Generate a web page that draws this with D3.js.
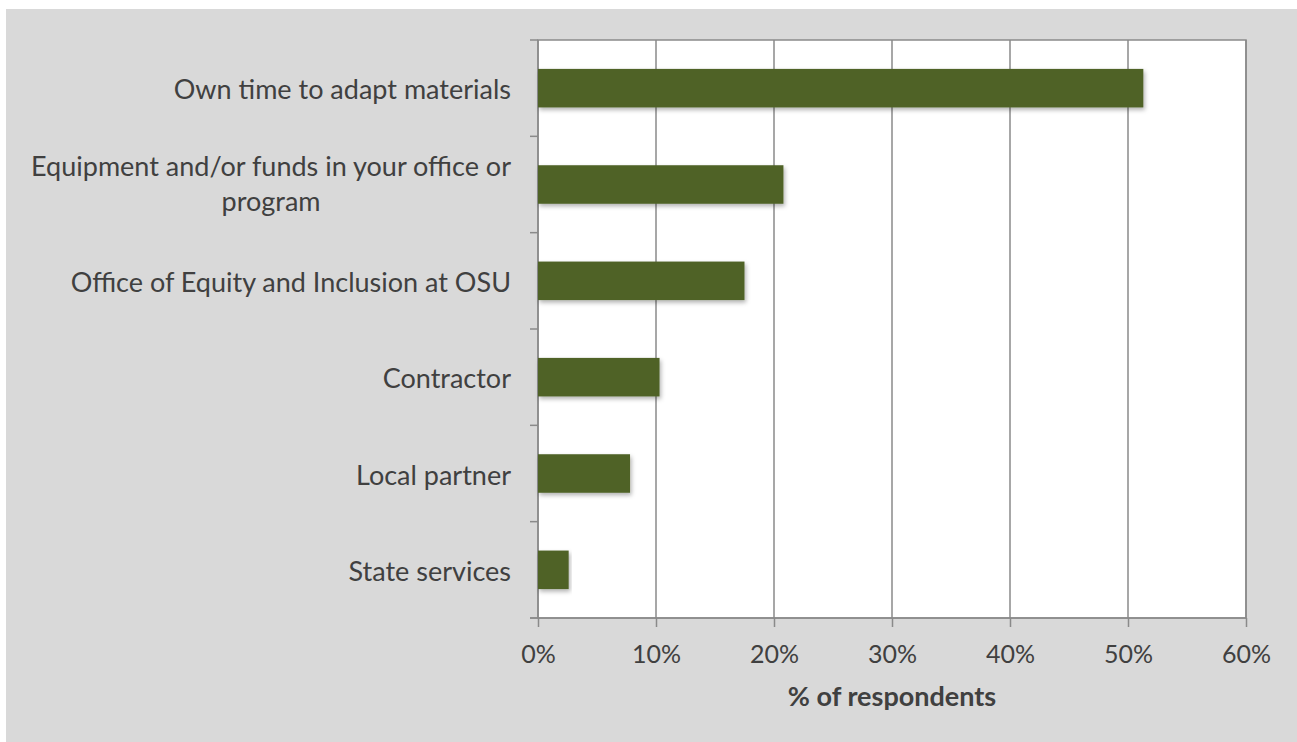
<!DOCTYPE html>
<html>
<head>
<meta charset="utf-8">
<script src="https://cdn.jsdelivr.net/npm/d3@7"></script>
<style>
  body { margin: 0; background: #fff; }
  text { font-family: Lato, "Open Sans", sans-serif; fill: #404040; }
</style>
</head>
<body>
<div id="chart"></div>
<script>
// values
const categories = [
    "Own time to adapt materials",
    "Equipment and/or funds in your office or program",
    "Office of Equity and Inclusion at OSU",
    "Contractor",
    "Local partner",
    "State services"
]
const labelLines = [
    ["Own time to adapt materials"],
    ["Equipment and/or funds in your office or", "program"],
    ["Office of Equity and Inclusion at OSU"],
    ["Contractor"],
    ["Local partner"],
    ["State services"]
]
const values = [0.513, 0.208, 0.175, 0.103, 0.078, 0.026]
const xTicks = [0, 0.1, 0.2, 0.3, 0.4, 0.5, 0.6]
const axisTitle = "% of respondents"

const width = 1297
const height = 742
const margin = { top: 40, right: 51, bottom: 124, left: 538 }

const svg = d3.select("#chart")
    .append("svg")
    .attr("width", width)
    .attr("height", height)

svg.append("rect")
    .attr("x", 6).attr("y", 9)
    .attr("width", width - 6).attr("height", height - 9)
    .attr("fill", "#d9d9d9")

const x = d3.scaleLinear()
    .domain([0, 0.6])
    .range([margin.left, width - margin.right])

const y = d3.scaleBand()
    .domain(categories)
    .range([margin.top, height - margin.bottom])
    .paddingInner(0.6)
    .paddingOuter(0.3)

// plot area
svg.append("rect")
    .attr("x", x(0)).attr("y", margin.top)
    .attr("width", x(0.6) - x(0))
    .attr("height", height - margin.bottom - margin.top)
    .attr("fill", "#fff")
    .attr("stroke", "#8a8a8a")
    .attr("stroke-width", 1.5)

// gridlines
svg.append("g")
    .selectAll("line")
    .data(xTicks)
    .join("line")
    .attr("x1", d => x(d)).attr("x2", d => x(d))
    .attr("y1", margin.top).attr("y2", height - margin.bottom)
    .attr("stroke", "#8a8a8a")
    .attr("stroke-width", 1.5)

// soft shadow like the excel bars
const defs = svg.append("defs")
const f = defs.append("filter").attr("id", "shadow")
    .attr("x", "-5%").attr("y", "-20%").attr("width", "115%").attr("height", "150%")
f.append("feDropShadow")
    .attr("dx", 1.5).attr("dy", 2.5).attr("stdDeviation", 2)
    .attr("flood-color", "#000").attr("flood-opacity", 0.3)

svg.append("g")
    .selectAll("rect")
    .data(values)
    .join("rect")
    .attr("x", x(0))
    .attr("y", (d, i) => y(categories[i]))
    .attr("width", d => x(d) - x(0))
    .attr("height", y.bandwidth())
    .attr("fill", "#4f6228")
    .attr("filter", "url(#shadow)")

// x axis
const xAxis = svg.append("g")
    .attr("transform", `translate(0,${height - margin.bottom})`)
    .call(d3.axisBottom(x).tickValues(xTicks).tickFormat(d3.format(".0%")).tickSize(9).tickPadding(18))
xAxis.selectAll("line, path").attr("stroke", "#8a8a8a").attr("stroke-width", 1.5)
xAxis.select(".domain").attr("d", `M${x(0) - 8},0H${x(0.6)}`)
xAxis.selectAll("text")
    .attr("font-size", 25)
    .attr("fill", "#404040")
    .style("font-family", "Lato, sans-serif")

// y axis ticks at band boundaries
const step = y.step()
const bounds = d3.range(categories.length + 1).map(i => margin.top + (i === 0 ? 0 : i === categories.length ? height - margin.bottom - margin.top : y(categories[i]) - margin.top - step * 0.3))
svg.append("g")
    .selectAll("line")
    .data(bounds)
    .join("line")
    .attr("x1", x(0) - 8).attr("x2", x(0))
    .attr("y1", d => d).attr("y2", d => d)
    .attr("stroke", "#8a8a8a")
    .attr("stroke-width", 1.5)

// category labels
const labelRight = x(0) - 27
const lineH = 35
svg.append("g")
    .selectAll("g")
    .data(labelLines)
    .join("g")
    .each(function (lines, i) {
        const g = d3.select(this)
        const cy = y(categories[i]) + y.bandwidth() / 2
        const t = g.append("text")
            .attr("font-size", 27)
            .attr("dominant-baseline", "central")
        lines.forEach((ln, j) => {
            t.append("tspan")
                .attr("y", cy + (j - (lines.length - 1) / 2) * lineH - (lines.length > 1 ? 2 : 0))
                .text(ln)
        })
        // right-align the block, centre lines within it
        const spans = t.selectAll("tspan").nodes()
        const w = d3.max(spans, s => s.getComputedTextLength())
        t.attr("text-anchor", "middle")
        t.selectAll("tspan").attr("x", labelRight - w / 2)
    })

svg.append("text")
    .attr("x", (x(0) + x(0.6)) / 2)
    .attr("y", 706)
    .attr("text-anchor", "middle")
    .attr("font-size", 27)
    .attr("font-weight", "bold")
    .text(axisTitle)
</script>
</body>
</html>
